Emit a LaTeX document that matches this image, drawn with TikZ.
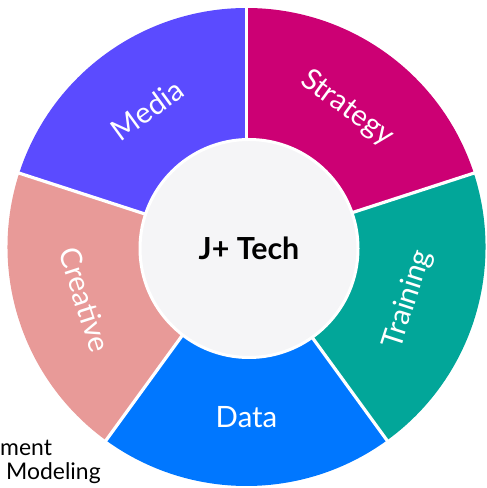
\documentclass[tikz,border=0pt]{standalone}
\usepackage{fontspec}
\setmainfont{Lato}
\definecolor{cmedia}{HTML}{5B4BFF}
\definecolor{cstrategy}{HTML}{CC0074}
\definecolor{ctraining}{HTML}{02A699}
\definecolor{cdata}{HTML}{0077FF}
\definecolor{ccreative}{HTML}{E89A98}
\definecolor{chub}{HTML}{F5F5F7}
\tikzset{
  lbl/.style={text=white,font=\fontsize{29.5}{33}\selectfont,inner sep=0pt},
  side/.style={text=black,font=\fontsize{23}{27}\selectfont,inner sep=0pt},
  gap/.style={draw=white,line width=3.2bp},
}
\newcommand{\seg}[3]{\fill[#1] (C) -- ++(#2:239) arc[start angle=#2,end angle=#3,radius=239] -- cycle;}
\begin{document}
\begin{tikzpicture}[x=1bp,y=1bp]
\useasboundingbox (0,0) rectangle (487,488);
\coordinate (C) at (246.5,241);
\seg{cstrategy}{18}{90}
\seg{cmedia}{90}{162}
\seg{ccreative}{162}{234}
\seg{cdata}{234}{306}
\seg{ctraining}{306}{378}
\foreach \a in {90,18,-54,-126,162} \draw[gap] (C) -- ++(\a:242);
\node[circle,fill=chub,draw=white,line width=3bp,minimum size=218bp,inner sep=0pt,
  font=\fontsize{30.5}{34}\selectfont\bfseries] (hub) at (249,239.5) {J+ Tech};
\node[lbl,rotate=-36] (strategy) at ([shift={(54:171)}]C) {Strategy};
\node[lbl,rotate=36] (media) at ([shift={(126:169)}]C) {Media};
\node[lbl,rotate=-72] (creative) at ([shift={(198:170)}]C) {Creative};
\node[lbl] (data) at ([shift={(270:170)}]C) {Data};
\node[lbl,rotate=72] (training) at ([shift={(342:170)}]C) {Training};
\node[side,anchor=base west] (ment) at (0,32) {ment};
\node[side,anchor=base west] (modeling) at (6,8) {Modeling};
\end{tikzpicture}
\end{document}
